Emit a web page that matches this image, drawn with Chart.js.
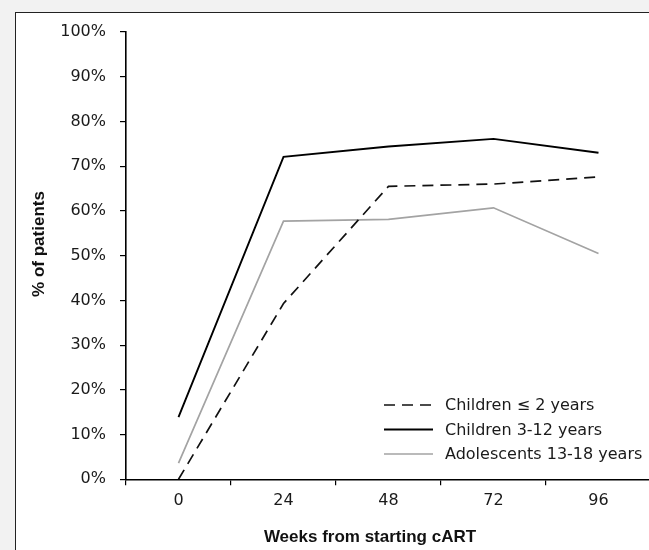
<!DOCTYPE html>
<html lang="en">
  <head>
    <meta charset="UTF-8" />
    <title>Weeks from starting cART</title>
    <script src="https://cdn.jsdelivr.net/npm/chart.js@4.4.1/dist/chart.umd.min.js"></script>
    <style>
      html, body { margin: 0; padding: 0; overflow: hidden; background: #f2f2f2; }
      #frame {
        position: absolute; left: 15px; top: 12px;
        width: 700px; height: 600px;
        background: #fff; border: 1.5px solid #222;
      }
      #wrap { position: absolute; left: 0; top: 0; width: 660px; height: 550px; }
    </style>
  </head>
  <body>
    <div id="frame"></div>
    <div id="wrap"><canvas id="myChart" width="660" height="550"></canvas></div>
    <script>
      // data
      const weeks = ['0', '24', '48', '72', '96'];
      const seriesNames = ['Children \u2264 2 years', 'Children 3-12 years', 'Adolescents 13-18 years'];
      const under2 = [0, 39.3, 65.5, 66.0, 67.6];
      const age3to12 = [13.9, 72.1, 74.4, 76.1, 73.0];
      const age13to18 = [3.6, 57.7, 58.1, 60.7, 50.5];
      const yTicks = [0, 10, 20, 30, 40, 50, 60, 70, 80, 90, 100];

      const FONT = 'DejaVu Sans';

      // legend inside the plot + axis titles, drawn at fixed spots
      const extras = {
        id: 'extras',
        afterDraw(chart) {
          const ctx = chart.ctx;
          ctx.save();
          // legend
          ctx.font = '16px "' + FONT + '"';
          ctx.textBaseline = 'middle';
          ctx.textAlign = 'left';
          chart.data.datasets.forEach((ds, i) => {
            const y = 405 + i * 24.5;
            ctx.beginPath();
            ctx.strokeStyle = ds.borderColor;
            ctx.lineWidth = ds.borderWidth;
            ctx.setLineDash(ds.borderDash || []);
            ctx.moveTo(384, y);
            ctx.lineTo(433, y);
            ctx.stroke();
            ctx.setLineDash([]);
            ctx.fillStyle = '#1a1a1a';
            ctx.fillText(ds.label, 445, y + 1);
          });
          // axis titles
          ctx.font = 'bold 17px "Liberation Sans"';
          ctx.fillStyle = '#111';
          ctx.textAlign = 'center';
          ctx.fillText('Weeks from starting cART', 370, 537);
          ctx.translate(39, 244);
          ctx.rotate(-Math.PI / 2);
          ctx.fillText('% of patients', 0, 0);
          ctx.restore();
        }
      };

      const ctx = document.getElementById('myChart').getContext('2d');
      const myChart = new Chart(ctx, {
        type: 'line',
        data: {
          labels: weeks,
          datasets: [
            {
              label: seriesNames[0],
              data: under2,
              borderColor: '#111',
              borderWidth: 1.7,
              borderDash: [11, 7],
              pointRadius: 0,
              fill: false,
              tension: 0
            },
            {
              label: seriesNames[1],
              data: age3to12,
              borderColor: '#000',
              borderWidth: 1.9,
              pointRadius: 0,
              fill: false,
              tension: 0
            },
            {
              label: seriesNames[2],
              data: age13to18,
              borderColor: '#a3a3a3',
              borderWidth: 1.7,
              pointRadius: 0,
              fill: false,
              tension: 0
            }
          ]
        },
        options: {
          responsive: false,
          animation: false,
          layout: { padding: { left: 0, top: 32, right: 9, bottom: 0 } },
          plugins: {
            legend: { display: false },
            tooltip: { enabled: false }
          },
          scales: {
            x: {
              type: 'category',
              offset: true,
              grid: { offset: true, drawOnChartArea: false, drawTicks: true, tickLength: 6, color: '#000', lineWidth: 1.2 },
              border: { color: '#000', width: 1.6 },
              ticks: { color: '#1a1a1a', font: { family: FONT, size: 16 }, padding: 6, maxRotation: 0 },
              afterFit: s => { s.height = 70.7; }
            },
            y: {
              min: 0,
              max: 100,
              afterBuildTicks: s => { s.ticks = yTicks.map(v => ({ value: v })); },
              grid: { drawOnChartArea: false, drawTicks: true, tickLength: 6, color: '#000', lineWidth: 1.2 },
              border: { color: '#000', width: 1.6 },
              ticks: {
                color: '#1a1a1a',
                font: { family: FONT, size: 16 },
                padding: 14,
                callback: v => v + '%'
              },
              afterFit: s => { s.width = 126; }
            }
          }
        },
        plugins: [extras]
      });
    </script>
  </body>
</html>
